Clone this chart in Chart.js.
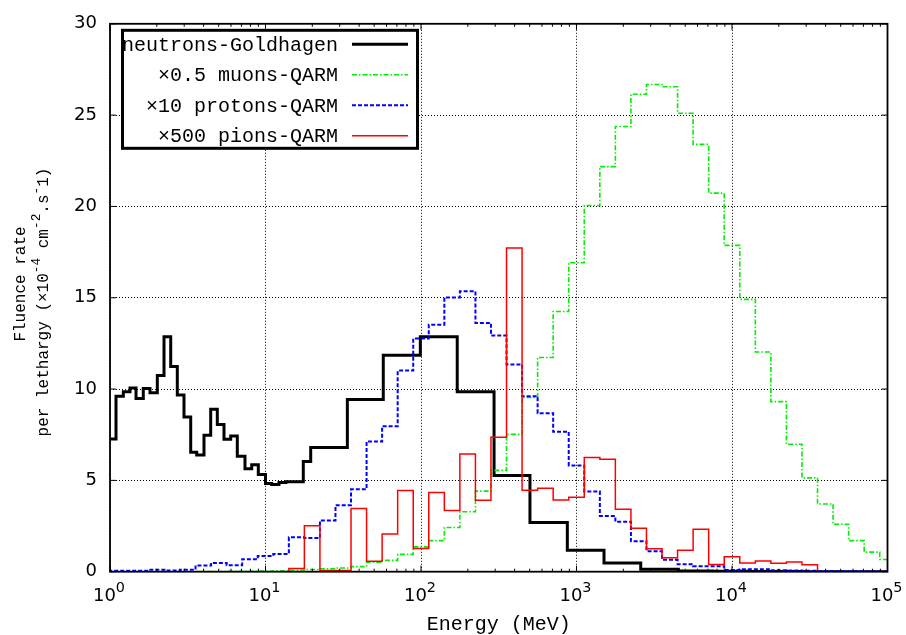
<!DOCTYPE html>
<html>
<head>
<meta charset="utf-8">
<title>Fluence rate per lethargy</title>
<script src="https://cdn.jsdelivr.net/npm/chart.js@4.4.1/dist/chart.umd.min.js"></script>
<style>
  html, body { margin: 0; padding: 0; background: #fff; }
  #wrap { position: relative; width: 906px; height: 635px; }
</style>
</head>
<body>
<div id="wrap"><canvas id="chart"></canvas></div>
<script>
// neutrons (Goldhagen) : bornes des bins en MeV, une valeur par bin
const neutronEdges = [1.0, 1.093, 1.218, 1.345, 1.47, 1.637, 1.808, 2.015, 2.225, 2.457, 2.709, 2.991,
  3.304, 3.61, 4.022, 4.442, 4.898, 5.409, 5.973, 6.586, 7.38, 8.153, 8.99, 10.0, 10.96, 12.21, 13.55,
  17.5, 19.53, 33.6, 57.2, 99, 171, 295, 502, 873, 1503, 2588, 4518, 7550, 13000, 30000, 100000];
const neutronValues = [7.27, 9.61, 9.85, 10.06, 9.49, 10.03, 9.8, 10.74, 12.86, 11.23, 9.67, 8.47,
  6.54, 6.39, 7.47, 8.9, 8.06, 7.25, 7.43, 6.32, 5.64, 5.85, 5.32, 4.83, 4.78, 4.89, 4.92,
  6.03, 6.8, 9.43, 11.85, 12.86, 9.85, 5.27, 2.69, 1.17, 0.47, 0.13, 0.04, 0.02, 0.01, 0.0];

// QARM : bins d'un dixième de décade, bornes communes aux trois séries
const qarmEdges = [0.891, 1.122, 1.413, 1.778, 2.239, 2.818, 3.548, 4.467, 5.623, 7.079,
  8.913, 11.22, 14.13, 17.78, 22.39, 28.18, 35.48, 44.67, 56.23, 70.79,
  89.13, 112.2, 141.3, 177.8, 223.9, 281.8, 354.8, 446.7, 562.3, 707.9,
  891.3, 1122, 1413, 1778, 2239, 2818, 3548, 4467, 5623, 7079,
  8913, 11220, 14130, 17780, 22390, 28180, 35480, 44670, 56230, 70790,
  89130, 112200];
const muonValues = [0, 0, 0, 0, 0, 0, 0.01, 0.01, 0.02, 0.02,
  0.03, 0.05, 0.08, 0.12, 0.16, 0.2, 0.28, 0.52, 0.62, 0.95,
  1.36, 1.7, 2.42, 3.28, 4.41, 5.55, 7.52, 9.54, 11.73, 14.25,
  16.92, 20.05, 22.18, 24.38, 26.14, 26.68, 26.55, 25.1, 23.4, 20.73,
  17.87, 14.91, 12.03, 9.31, 6.98, 5.14, 3.71, 2.6, 1.7, 1.07,
  0.67];
const protonValues = [0.05, 0.05, 0.05, 0.1, 0.06, 0.1, 0.34, 0.48, 0.36, 0.68,
  0.86, 0.97, 1.88, 1.85, 2.81, 3.64, 4.51, 7.13, 7.97, 11.01,
  12.77, 13.52, 15.02, 15.36, 13.62, 12.93, 11.35, 9.61, 8.68, 7.66,
  5.82, 4.39, 3.05, 2.74, 1.67, 1.12, 0.65, 0.41, 0.3, 0.3,
  0.09, 0.14, 0.14, 0.08, 0.06, 0.05, 0.04, 0.03, 0.03, 0.02,
  0.02];
const pionValues = [0, 0, 0, 0, 0, 0, 0, 0, 0, 0,
  0, 0, 0.18, 2.51, 0.06, 0.06, 3.46, 0.57, 2.06, 4.44,
  1.27, 4.33, 3.35, 6.44, 3.91, 7.36, 17.72, 4.46, 4.57, 3.92,
  4.08, 6.25, 6.16, 3.42, 2.38, 1.25, 0.76, 1.17, 2.33, 0.4,
  0.82, 0.47, 0.59, 0.46, 0.53, 0.38, 0, 0, 0, 0,
  0];

const seriesLabels = ['neutrons-Goldhagen', '\u00d70.5 muons-QARM', '\u00d710 protons-QARM', '\u00d7500 pions-QARM'];
const xTickValues = [1, 10, 100, 1000, 10000, 100000];
const xTickExponents = ['0', '1', '2', '3', '4', '5'];
const yTickStep = 5;

const MONO = '"Liberation Mono", "DejaVu Sans Mono", monospace';
const SANS = '"DejaVu Sans", sans-serif';

// histogramme : un point par borne basse, le dernier point ferme le dernier bin
function histPoints(edges, values) {
  return edges.map((e, i) => ({ x: e, y: i < values.length ? values[i] : values[values.length - 1] }));
}

// texte avec exposants (style gnuplot enhanced)
function drawRich(ctx, runs, x, y, size, family) {
  let total = 0;
  runs.forEach(r => {
    ctx.font = (r.sup ? size * 0.8 : size) + 'px ' + family;
    r.w = ctx.measureText(r.t).width;
    total += r.w;
  });
  let cx = x - total / 2;
  ctx.textAlign = 'left';
  ctx.textBaseline = 'alphabetic';
  runs.forEach(r => {
    ctx.font = (r.sup ? size * 0.8 : size) + 'px ' + family;
    ctx.fillText(r.t, cx, r.sup ? y - size * 0.5 : y);
    cx += r.w;
  });
}

const decorations = {
  id: 'decorations',
  afterDraw(chart) {
    const ctx = chart.ctx;
    const a = chart.chartArea;
    const xs = chart.scales.x, ys = chart.scales.y;
    ctx.save();
    ctx.strokeStyle = '#000';
    ctx.fillStyle = '#000';

    // graduations vers l'intérieur
    ctx.lineWidth = 1;
    ctx.beginPath();
    for (let i = 0; i < xTickValues.length; i++) {
      const px = xs.getPixelForValue(xTickValues[i]);
      ctx.moveTo(px, a.bottom); ctx.lineTo(px, a.bottom - 6);
      ctx.moveTo(px, a.top); ctx.lineTo(px, a.top + 6);
      if (i < xTickValues.length - 1) {
        for (let m = 2; m <= 9; m++) {
          const pm = xs.getPixelForValue(xTickValues[i] * m);
          ctx.moveTo(pm, a.bottom); ctx.lineTo(pm, a.bottom - 3);
          ctx.moveTo(pm, a.top); ctx.lineTo(pm, a.top + 3);
        }
      }
    }
    ys.ticks.forEach(t => {
      const py = ys.getPixelForValue(t.value);
      ctx.moveTo(a.left, py); ctx.lineTo(a.left + 6, py);
      ctx.moveTo(a.right, py); ctx.lineTo(a.right - 6, py);
    });
    ctx.stroke();

    // cadre
    ctx.lineWidth = 1.8;
    ctx.strokeRect(a.left, a.top, a.right - a.left, a.bottom - a.top);

    // étiquettes de l'axe x : 10^n
    xTickValues.forEach((v, i) => {
      drawRich(ctx, [{ t: '10' }, { t: xTickExponents[i], sup: true }],
        xs.getPixelForValue(v) - 1, a.bottom + 29.5, 18, SANS);
    });

    // titres des axes
    ctx.font = '20px ' + MONO;
    ctx.textAlign = 'center';
    ctx.textBaseline = 'alphabetic';
    ctx.fillText('Energy (MeV)', (a.left + a.right) / 2, 630);

    ctx.save();
    ctx.translate(24.5, 284);
    ctx.rotate(-Math.PI / 2);
    drawRich(ctx, [{ t: 'Fluence rate' }], 0, 0, 16, MONO);
    ctx.restore();
    ctx.save();
    ctx.translate(47.5, 302);
    ctx.rotate(-Math.PI / 2);
    drawRich(ctx, [{ t: 'per lethargy (\u00d710' }, { t: '-4', sup: true }, { t: ' cm' }, { t: '-2', sup: true },
      { t: '.s' }, { t: '-', sup: true }, { t: '1)' }], 0, 0, 16, MONO);
    ctx.restore();

    // légende
    const lx = a.left + 11, ly = a.top + 5, lw = 298, lh = 121;
    ctx.fillStyle = '#fff';
    ctx.fillRect(lx, ly, lw, lh);
    ctx.lineWidth = 3;
    ctx.strokeRect(lx + 1.5, ly + 1.5, lw - 3, lh - 3);
    ctx.font = '20px ' + MONO;
    ctx.textAlign = 'right';
    ctx.textBaseline = 'alphabetic';
    chart.data.datasets.forEach((ds, i) => {
      const rowY = ly + 15.5 + i * 30.5;
      ctx.fillStyle = '#000';
      ctx.fillText(ds.label, lx + 217, rowY + 6.5);
      ctx.beginPath();
      ctx.strokeStyle = ds.borderColor;
      ctx.lineWidth = ds.borderWidth;
      ctx.setLineDash(ds.borderDash || []);
      ctx.moveTo(lx + 231, rowY);
      ctx.lineTo(lx + 287, rowY);
      ctx.stroke();
      ctx.setLineDash([]);
    });
    ctx.restore();
  }
};

const common = { stepped: 'before', pointRadius: 0, fill: false, borderJoinStyle: 'miter' };

new Chart(document.getElementById('chart'), {
  type: 'line',
  data: {
    datasets: [
      Object.assign({ label: seriesLabels[0], data: histPoints(neutronEdges, neutronValues),
        borderColor: '#000000', borderWidth: 3, order: 3 }, common),
      Object.assign({ label: seriesLabels[1], data: histPoints(qarmEdges, muonValues),
        borderColor: '#00ee00', borderWidth: 1.6, borderDash: [5, 2, 1.5, 2], order: 2 }, common),
      Object.assign({ label: seriesLabels[2], data: histPoints(qarmEdges, protonValues),
        borderColor: '#0000ff', borderWidth: 2, borderDash: [4, 2], order: 1 }, common),
      Object.assign({ label: seriesLabels[3], data: histPoints(qarmEdges, pionValues),
        borderColor: '#ff0000', borderWidth: 1.5, order: 0 }, common)
    ]
  },
  options: {
    responsive: true,
    maintainAspectRatio: false,
    animation: false,
    devicePixelRatio: 1,
    layout: { padding: { top: 13, right: 18.5, left: 0, bottom: 0 } },
    plugins: { legend: { display: false }, tooltip: { enabled: false } },
    scales: {
      x: {
        type: 'logarithmic',
        min: 1,
        max: 100000,
        afterBuildTicks: s => { s.ticks = xTickValues.map(v => ({ value: v, major: true })); },
        afterFit: s => { s.height = 63.3; },
        ticks: { display: false },
        grid: { color: '#000', lineWidth: 1, drawTicks: false },
        border: { display: false, dash: [1, 2] }
      },
      y: {
        min: 0,
        max: 30,
        afterFit: s => { s.width = 110; },
        ticks: { stepSize: yTickStep, color: '#000', padding: 13, font: { family: SANS, size: 18 } },
        grid: { color: '#000', lineWidth: 1, drawTicks: false },
        border: { display: false, dash: [1, 2] }
      }
    }
  },
  plugins: [decorations]
});
</script>
</body>
</html>
